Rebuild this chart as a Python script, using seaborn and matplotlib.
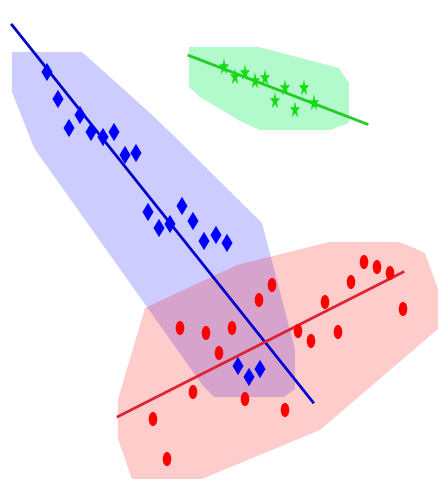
import numpy as np
import pandas as pd
import matplotlib
matplotlib.use('Agg')
import matplotlib.pyplot as plt
from matplotlib.markers import MarkerStyle
from matplotlib.transforms import Affine2D
import seaborn as sns

# valores (y para cima)
blue_x = [47, 58, 69, 80, 91, 103, 114, 125, 136, 148, 159, 170, 182, 193, 204, 216, 227, 238, 249, 260]
blue_y = [410, 383, 354, 367, 350, 345, 350, 327, 329, 270, 254, 258, 276, 261, 241, 247, 239, 116, 105, 113]

red_x = [153, 167, 180, 193, 206, 219, 232, 245, 259, 272, 285, 298, 311, 325, 338, 351, 364, 377, 390, 403]
red_y = [63, 23, 154, 90, 149, 129, 154, 83, 182, 197, 72, 151, 141, 180, 150, 200, 220, 215, 209, 173]

green_x = [224, 235, 245, 255, 265, 275, 285, 295, 304, 314]
green_y = [415, 405, 409, 401, 404, 381, 394, 372, 394, 379]

groups = ['blue', 'red', 'green']

df = pd.concat([
    pd.DataFrame({'x': blue_x, 'y': blue_y, 'grupo': 'blue'}),
    pd.DataFrame({'x': red_x, 'y': red_y, 'grupo': 'red'}),
    pd.DataFrame({'x': green_x, 'y': green_y, 'grupo': 'green'}),
])

estilo = {
    'blue': dict(marker='D', ms=32, cor='blue', linha='mediumblue', fundo='blue', alpha=0.2, fim=53),
    'red': dict(marker='o', ms=38, cor='red', linha='#dd2233', fundo='red', alpha=0.2, fim=0),
    'green': dict(marker='*', ms=60, cor='#11dd11', linha='#22cc22', fundo='#00ee55', alpha=0.3, fim=53),
}

PAD_X, PAD_Y = 35, 20


def hull(pts):
    # casca convexa (monotone chain)
    pts = sorted(set(map(tuple, pts)))
    def cross(o, a, b):
        return (a[0] - o[0]) * (b[1] - o[1]) - (a[1] - o[1]) * (b[0] - o[0])
    lower, upper = [], []
    for p in pts:
        while len(lower) >= 2 and cross(lower[-2], lower[-1], p) <= 0:
            lower.pop()
        lower.append(p)
    for p in reversed(pts):
        while len(upper) >= 2 and cross(upper[-2], upper[-1], p) <= 0:
            upper.pop()
        upper.append(p)
    return np.array(lower[:-1] + upper[:-1])


fig = plt.figure(figsize=(4.4, 4.82), dpi=100)
ax = fig.add_axes([0, 0, 1, 1])

# areas (retangulos em volta de cada ponto)
for g in groups:
    d = df[df['grupo'] == g]
    cantos = []
    for x, y in zip(d['x'], d['y']):
        for sx in (-1, 1):
            for sy in (-1, 1):
                cantos.append((x + sx * PAD_X, y + sy * PAD_Y))
    h = hull(cantos)
    ax.fill(h[:, 0], h[:, 1], color=estilo[g]['fundo'], alpha=estilo[g]['alpha'], lw=0, zorder=1)

# retas de regressao
for g in groups:
    d = df[df['grupo'] == g]
    a, b = np.polyfit(d['x'], d['y'], 1)
    xs = np.array([d['x'].min() - PAD_X, d['x'].max() + estilo[g]['fim']])
    ax.plot(xs, a * xs + b, color=estilo[g]['linha'], lw=2, zorder=3)

# pontos
for g in groups:
    d = df[df['grupo'] == g]
    mk = MarkerStyle(estilo[g]['marker'], transform=Affine2D().scale(1, 1.65))
    sns.scatterplot(data=d, x='x', y='y', marker=mk, s=estilo[g]['ms'],
                    color=estilo[g]['cor'], edgecolor='none', ax=ax, zorder=4)

ax.set_xlim(0, 440)
ax.set_ylim(0, 482)
ax.axis('off')

plt.savefig('out.png', dpi=100)
plt.close()
